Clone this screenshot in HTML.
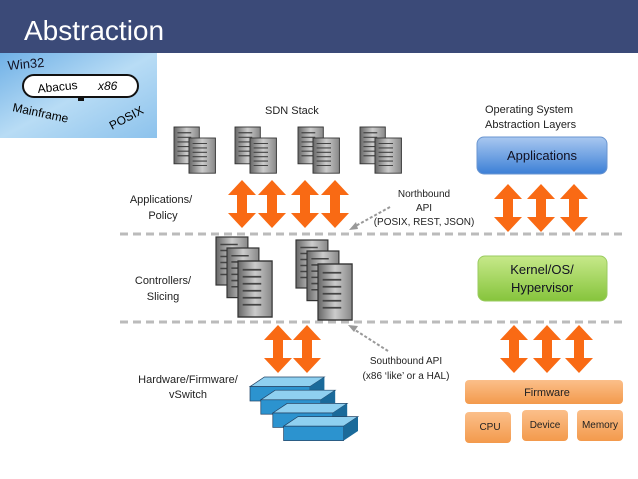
<!DOCTYPE html>
<html><head><meta charset="utf-8"><style>
html,body{margin:0;padding:0;background:#fff;width:638px;height:479px;overflow:hidden}
svg{display:block}
text{font-family:"Liberation Sans",sans-serif}
</style></head><body>
<svg width="638" height="479" viewBox="0 0 638 479" xmlns="http://www.w3.org/2000/svg">
<defs>
<linearGradient id="sky" x1="0" y1="0" x2="1" y2="1"><stop offset="0" stop-color="#6fb0e6"/><stop offset="0.5" stop-color="#b8dcf5"/><stop offset="1" stop-color="#8cc2ec"/></linearGradient>
<linearGradient id="blue" x1="0" y1="0" x2="0" y2="1"><stop offset="0" stop-color="#a9c8f0"/><stop offset="1" stop-color="#3c7fd6"/></linearGradient>
<linearGradient id="green" x1="0" y1="0" x2="0" y2="1"><stop offset="0" stop-color="#c7e98a"/><stop offset="1" stop-color="#86c43c"/></linearGradient>
<linearGradient id="org" x1="0" y1="0" x2="0" y2="1"><stop offset="0" stop-color="#fbbf8a"/><stop offset="1" stop-color="#f39a4c"/></linearGradient>
<linearGradient id="srv" x1="0" y1="0" x2="1" y2="0"><stop offset="0" stop-color="#666"/><stop offset="0.5" stop-color="#ccc"/><stop offset="1" stop-color="#888"/></linearGradient>
<g id="s"><rect x="0" y="0" width="22" height="32" fill="url(#srv)" stroke="#333" stroke-width="0.8"/><path d="M3 5h12M3 9h12M3 13h12M3 17h12M3 21h12M3 25h12" stroke="#444" stroke-width="1"/></g>
<g id="pair"><use href="#s" transform="scale(1.15)"/><use href="#s" transform="translate(15,11) scale(1.2,1.1)"/></g>
<g id="trio"><use href="#s" transform="translate(0,0) scale(1.45,1.5)"/><use href="#s" transform="translate(11,11) scale(1.45,1.55)"/><use href="#s" transform="translate(22,24) scale(1.55,1.75)"/></g>
<g id="arr"><polygon points="0,-24 14,-9 5,-9 5,9 14,9 0,24 -14,9 -5,9 -5,-9 -14,-9" fill="#f96a14"/></g>
<g id="sw"><polygon points="0,8 12,0 62,0 50,8" fill="#8fd0f0" stroke="#246" stroke-width="0.6"/><rect x="0" y="8" width="50" height="12" fill="#2c93cf" stroke="#246" stroke-width="0.6"/><polygon points="50,8 62,0 62,12 50,20" fill="#1a6a9a"/></g>
</defs>
<rect x="0" y="0" width="638" height="53" fill="#3b4a78"/>
<text x="24" y="40" font-size="28" fill="#fff">Abstraction</text>
<rect x="0" y="53" width="157" height="85" fill="url(#sky)"/>
<rect x="23" y="75" width="115" height="22" rx="11" fill="#fff" stroke="#111" stroke-width="2"/>
<rect x="78" y="97" width="6" height="4" fill="#111"/>
<text x="8" y="70" font-size="13" fill="#112" transform="rotate(-5 8 70)">Win32</text>
<text x="38" y="93" font-size="12" transform="rotate(-6 38 93)">Abacus</text>
<text x="98" y="90" font-size="12" font-style="italic">x86</text>
<text x="12" y="111" font-size="12" transform="rotate(12 12 111)">Mainframe</text>
<text x="112" y="130" font-size="12" transform="rotate(-28 112 130)">POSIX</text>
<text x="265" y="114" font-size="11" fill="#222">SDN Stack</text>
<text x="485" y="113" font-size="11" fill="#222">Operating System</text>
<text x="485" y="128" font-size="11" fill="#222">Abstraction Layers</text>
<use href="#pair" x="174" y="127"/><use href="#pair" x="235" y="127"/><use href="#pair" x="298" y="127"/><use href="#pair" x="360" y="127"/>
<use href="#arr" x="242" y="204"/><use href="#arr" x="272" y="204"/><use href="#arr" x="305" y="204"/><use href="#arr" x="335" y="204"/>
<line x1="120" y1="234" x2="625" y2="234" stroke="#bbb" stroke-width="3" stroke-dasharray="8 5"/>
<line x1="120" y1="322" x2="625" y2="322" stroke="#bbb" stroke-width="3" stroke-dasharray="8 5"/>
<use href="#trio" x="216" y="237"/><use href="#trio" x="296" y="240"/>
<use href="#arr" x="278" y="349"/><use href="#arr" x="307" y="349"/>
<g transform="translate(250,377) scale(1.2)"><use href="#sw" x="0" y="0"/><use href="#sw" x="9" y="11"/><use href="#sw" x="19" y="22"/><use href="#sw" x="28" y="33"/></g>
<text x="161" y="203" font-size="11" text-anchor="middle" fill="#222">Applications/</text>
<text x="163" y="219" font-size="11" text-anchor="middle" fill="#222">Policy</text>
<text x="163" y="284" font-size="11" text-anchor="middle" fill="#222">Controllers/</text>
<text x="163" y="300" font-size="11" text-anchor="middle" fill="#222">Slicing</text>
<text x="188" y="383" font-size="11" text-anchor="middle" fill="#222">Hardware/Firmware/</text>
<text x="188" y="398" font-size="11" text-anchor="middle" fill="#222">vSwitch</text>
<text x="424" y="197" font-size="10" text-anchor="middle" fill="#222">Northbound</text>
<text x="424" y="211" font-size="10" text-anchor="middle" fill="#222">API</text>
<text x="424" y="225" font-size="10" text-anchor="middle" fill="#222">(POSIX, REST, JSON)</text>
<line x1="390" y1="207" x2="352" y2="228" stroke="#999" stroke-width="2" stroke-dasharray="3 2"/>
<polygon points="349,230 356,222 358,229" fill="#999"/>
<text x="406" y="364" font-size="10" text-anchor="middle" fill="#222">Southbound API</text>
<text x="406" y="379" font-size="10" text-anchor="middle" fill="#222">(x86 ‘like’ or a HAL)</text>
<line x1="388" y1="351" x2="352" y2="328" stroke="#999" stroke-width="2" stroke-dasharray="3 2"/>
<polygon points="348,325 358,326 354,332" fill="#999"/>
<rect x="477" y="137" width="130" height="37" rx="7" fill="url(#blue)" stroke="#6a95d0"/>
<text x="542" y="160" font-size="13" text-anchor="middle" fill="#112">Applications</text>
<use href="#arr" x="508" y="208"/><use href="#arr" x="541" y="208"/><use href="#arr" x="574" y="208"/>
<rect x="478" y="256" width="129" height="45" rx="7" fill="url(#green)" stroke="#9acb60"/>
<text x="542" y="274" font-size="13" text-anchor="middle" fill="#112">Kernel/OS/</text>
<text x="542" y="292" font-size="13" text-anchor="middle" fill="#112">Hypervisor</text>
<use href="#arr" x="514" y="349"/><use href="#arr" x="547" y="349"/><use href="#arr" x="579" y="349"/>
<rect x="465" y="380" width="158" height="24" rx="4" fill="url(#org)"/>
<text x="547" y="396" font-size="11" text-anchor="middle" fill="#222">Firmware</text>
<rect x="465" y="412" width="46" height="31" rx="4" fill="url(#org)"/>
<text x="490" y="430" font-size="10" text-anchor="middle" fill="#222">CPU</text>
<rect x="522" y="410" width="46" height="31" rx="4" fill="url(#org)"/>
<text x="545" y="428" font-size="10" text-anchor="middle" fill="#222">Device</text>
<rect x="577" y="410" width="46" height="31" rx="4" fill="url(#org)"/>
<text x="600" y="428" font-size="10" text-anchor="middle" fill="#222">Memory</text>
</svg>
</body></html>
